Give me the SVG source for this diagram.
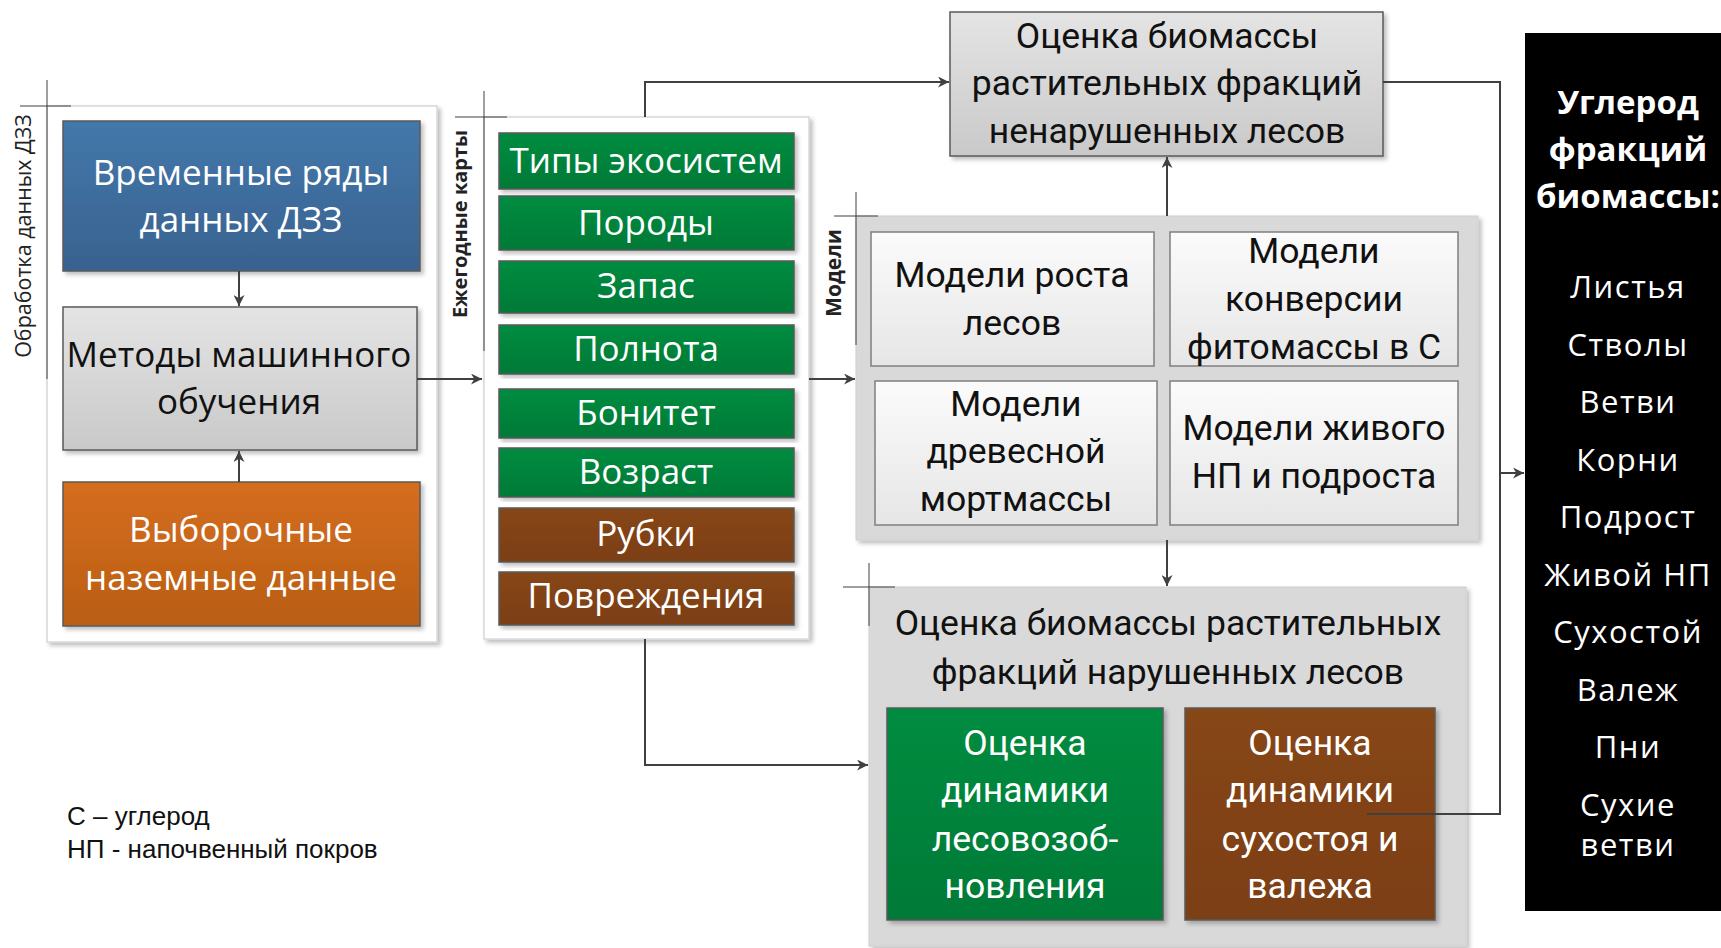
<svg xmlns="http://www.w3.org/2000/svg" width="1721" height="948" viewBox="0 0 1721 948">
<defs>
<linearGradient id="gBlue" x1="0" y1="0" x2="0" y2="1"><stop offset="0" stop-color="#4378ab"/><stop offset="1" stop-color="#38628f"/></linearGradient>
<linearGradient id="gGray" x1="0" y1="0" x2="0" y2="1"><stop offset="0" stop-color="#e4e4e4"/><stop offset="1" stop-color="#c9c9c9"/></linearGradient>
<linearGradient id="gOrange" x1="0" y1="0" x2="0" y2="1"><stop offset="0" stop-color="#d56d1c"/><stop offset="1" stop-color="#b95e17"/></linearGradient>
<linearGradient id="gGreen" x1="0" y1="0" x2="0" y2="1"><stop offset="0" stop-color="#008c40"/><stop offset="1" stop-color="#007a37"/></linearGradient>
<linearGradient id="gBrown" x1="0" y1="0" x2="0" y2="1"><stop offset="0" stop-color="#874614"/><stop offset="1" stop-color="#7c3f12"/></linearGradient>
<linearGradient id="gWhite" x1="0" y1="0" x2="0" y2="1"><stop offset="0" stop-color="#fbfbfb"/><stop offset="1" stop-color="#e6e6e6"/></linearGradient>
<filter id="sh" x="-5%" y="-5%" width="115%" height="115%"><feDropShadow dx="3" dy="3" stdDeviation="2" flood-color="#000" flood-opacity="0.25"/></filter>
<marker id="arr" viewBox="0 0 10 10" refX="10" refY="5" markerWidth="11" markerHeight="11" markerUnits="userSpaceOnUse" orient="auto"><path d="M0,0 L10,5 L0,10 L3,5 z" fill="#404040"/></marker>
<style>
.box{stroke:#5a5a5a;stroke-width:1.5;filter:url(#sh)}
.cont{fill:#fff;stroke:#d8d8d8;stroke-width:1.5;filter:url(#sh)}
.gcont{fill:#d9d9d9;stroke:#cfcfcf;stroke-width:1;filter:url(#sh)}
.sub{fill:url(#gWhite);stroke:#7f7f7f;stroke-width:1.5}
.seg{font-family:"Open Sans","Noto Sans",sans-serif;text-anchor:middle}
.cal{font-family:Roboto,"Noto Sans",sans-serif;text-anchor:middle;font-size:35.5px}
.w{fill:#fff}
.k{fill:#111}
.cross{stroke:#404040;stroke-width:1;fill:none}
.con{stroke:#404040;stroke-width:2;fill:none}
.lbl{font-family:"Open Sans","Noto Sans",sans-serif;text-anchor:middle;fill:#222}
.bar{font-size:35px}
.big{font-size:35px}
</style>
</defs>

<g id="left-container">
<rect class="cont" x="47" y="106" width="390" height="536"/>
<path class="cross" d="M20,106 H71 M47,80 V379"/>
<text class="lbl" font-size="21.5" transform="translate(31,236) rotate(-90)">Обработка данных ДЗЗ</text>
</g>

<g id="node-timeseries">
<rect class="box" x="63" y="121" width="357" height="150" fill="url(#gBlue)"/>
<text class="seg w big" x="241" y="185">Временные ряды</text>
<text class="seg w big" x="241" y="232">данных ДЗЗ</text>
</g>

<g id="node-ml">
<rect class="box" x="63" y="307" width="354" height="143" fill="url(#gGray)"/>
<text class="seg k big" x="239" y="367">Методы машинного</text>
<text class="seg k big" x="239" y="414">обучения</text>
</g>

<g id="node-ground">
<rect class="box" x="63" y="482" width="357" height="144" fill="url(#gOrange)"/>
<text class="seg w big" x="241" y="542">Выборочные</text>
<text class="seg w big" x="241" y="590">наземные данные</text>
</g>

<g id="middle-container">
<rect class="cont" x="484" y="117" width="325" height="522"/>
<path class="cross" d="M455,117 H507 M484,91 V351"/>
<text class="lbl" font-weight="bold" font-size="20" transform="translate(467,224) rotate(-90)">Ежегодные карты</text>
</g>

<g id="node-maps">
<rect class="box" x="499" y="133" width="295" height="56" fill="url(#gGreen)"/>
<text class="seg w bar" x="646" y="173">Типы экосистем</text>
<rect class="box" x="499" y="196" width="295" height="54" fill="url(#gGreen)"/>
<text class="seg w bar" x="646" y="235">Породы</text>
<rect class="box" x="499" y="261" width="295" height="52" fill="url(#gGreen)"/>
<text class="seg w bar" x="646" y="298">Запас</text>
<rect class="box" x="499" y="325" width="295" height="49" fill="url(#gGreen)"/>
<text class="seg w bar" x="646" y="361">Полнота</text>
<rect class="box" x="499" y="389" width="295" height="49" fill="url(#gGreen)"/>
<text class="seg w bar" x="646" y="425">Бонитет</text>
<rect class="box" x="499" y="448" width="295" height="49" fill="url(#gGreen)"/>
<text class="seg w bar" x="646" y="484">Возраст</text>
<rect class="box" x="499" y="508" width="295" height="54" fill="url(#gBrown)"/>
<text class="seg w bar" x="646" y="546">Рубки</text>
<rect class="box" x="499" y="572" width="295" height="53" fill="url(#gBrown)"/>
<text class="seg w bar" x="646" y="608">Повреждения</text>
</g>

<g id="node-undisturbed">
<rect class="box" x="950" y="12" width="433" height="144" fill="url(#gGray)"/>
<text class="cal k" x="1167" y="48">Оценка биомассы</text>
<text class="cal k" x="1167" y="95">растительных фракций</text>
<text class="cal k" x="1167" y="143">ненарушенных лесов</text>
</g>

<g id="models-container">
<rect class="gcont" x="856" y="216" width="622" height="324"/>
<path class="cross" d="M834,216 H878 M856,192 V345"/>
<text class="lbl" font-weight="bold" font-size="21" transform="translate(841,273) rotate(-90)">Модели</text>
</g>

<g id="node-growth">
<rect class="sub" x="871" y="232" width="283" height="134"/>
<text class="cal k" x="1012" y="287">Модели роста</text>
<text class="cal k" x="1012" y="335">лесов</text>
</g>
<g id="node-conversion">
<rect class="sub" x="1170" y="232" width="288" height="134"/>
<text class="cal k" x="1314" y="263">Модели</text>
<text class="cal k" x="1314" y="311">конверсии</text>
<text class="cal k" x="1314" y="359">фитомассы в С</text>
</g>
<g id="node-mortmass">
<rect class="sub" x="875" y="381" width="282" height="144"/>
<text class="cal k" x="1016" y="416">Модели</text>
<text class="cal k" x="1016" y="463">древесной</text>
<text class="cal k" x="1016" y="511">мортмассы</text>
</g>
<g id="node-living">
<rect class="sub" x="1170" y="381" width="288" height="144"/>
<text class="cal k" x="1314" y="440">Модели живого</text>
<text class="cal k" x="1314" y="488">НП и подроста</text>
</g>

<g id="disturbed-container">
<rect class="gcont" x="869" y="587" width="597" height="359"/>
<path class="cross" d="M843,587 H895 M869,563 V626"/>
<text class="cal k" x="1168" y="635">Оценка биомассы растительных</text>
<text class="cal k" x="1168" y="684">фракций нарушенных лесов</text>
</g>

<g id="node-regrowth">
<rect class="box" x="887" y="708" width="276" height="212" fill="url(#gGreen)"/>
<text class="cal w" x="1025" y="755">Оценка</text>
<text class="cal w" x="1025" y="802">динамики</text>
<text class="cal w" x="1025" y="851">лесовозоб-</text>
<text class="cal w" x="1025" y="898">новления</text>
</g>

<g id="node-deadwood">
<rect class="box" x="1185" y="708" width="250" height="212" fill="url(#gBrown)"/>
<text class="cal w" x="1310" y="755">Оценка</text>
<text class="cal w" x="1310" y="802">динамики</text>
<text class="cal w" x="1310" y="851">сухостоя и</text>
<text class="cal w" x="1310" y="898">валежа</text>
</g>

<g id="node-carbon">
<rect x="1525" y="33" width="200" height="878" fill="#000"/>
<g font-family="'Open Sans','Noto Sans',sans-serif" font-weight="bold" font-size="33" fill="#fff" text-anchor="middle">
<text x="1628" y="114">Углерод</text>
<text x="1628" y="161">фракций</text>
<text x="1628" y="208">биомассы:</text>
</g>
<g font-family="'Open Sans','Noto Sans',sans-serif" font-size="31" letter-spacing="1.5" fill="#fff" text-anchor="middle">
<text x="1628" y="298">Листья</text>
<text x="1628" y="356">Стволы</text>
<text x="1628" y="413">Ветви</text>
<text x="1628" y="471">Корни</text>
<text x="1628" y="528">Подрост</text>
<text x="1628" y="586">Живой НП</text>
<text x="1628" y="643">Сухостой</text>
<text x="1628" y="701">Валеж</text>
<text x="1628" y="758">Пни</text>
<text x="1628" y="816">Сухие</text>
<text x="1628" y="856">ветви</text>
</g>
</g>

<g id="legend" font-family="'Liberation Sans',Arial,sans-serif" font-size="26" fill="#111">
<text x="67" y="825">С – углерод</text>
<text x="67" y="858">НП - напочвенный покров</text>
</g>

<g id="connectors">
<path class="con" d="M239,271 V306" marker-end="url(#arr)"/>
<path class="con" d="M239,482 V451" marker-end="url(#arr)"/>
<path class="con" d="M417,379 H482" marker-end="url(#arr)"/>
<path class="con" d="M645,117 V82 H949" marker-end="url(#arr)"/>
<path class="con" d="M809,379 H855" marker-end="url(#arr)"/>
<path class="con" d="M1167,216 V157" marker-end="url(#arr)"/>
<path class="con" d="M1167,540 V586" marker-end="url(#arr)"/>
<path class="con" d="M645,639 V765 H868" marker-end="url(#arr)"/>
<path class="con" d="M1383,82 H1500 V473 H1524" marker-end="url(#arr)"/>
<path class="con" d="M1367,814 H1500 V473"/>
</g>
</svg>
